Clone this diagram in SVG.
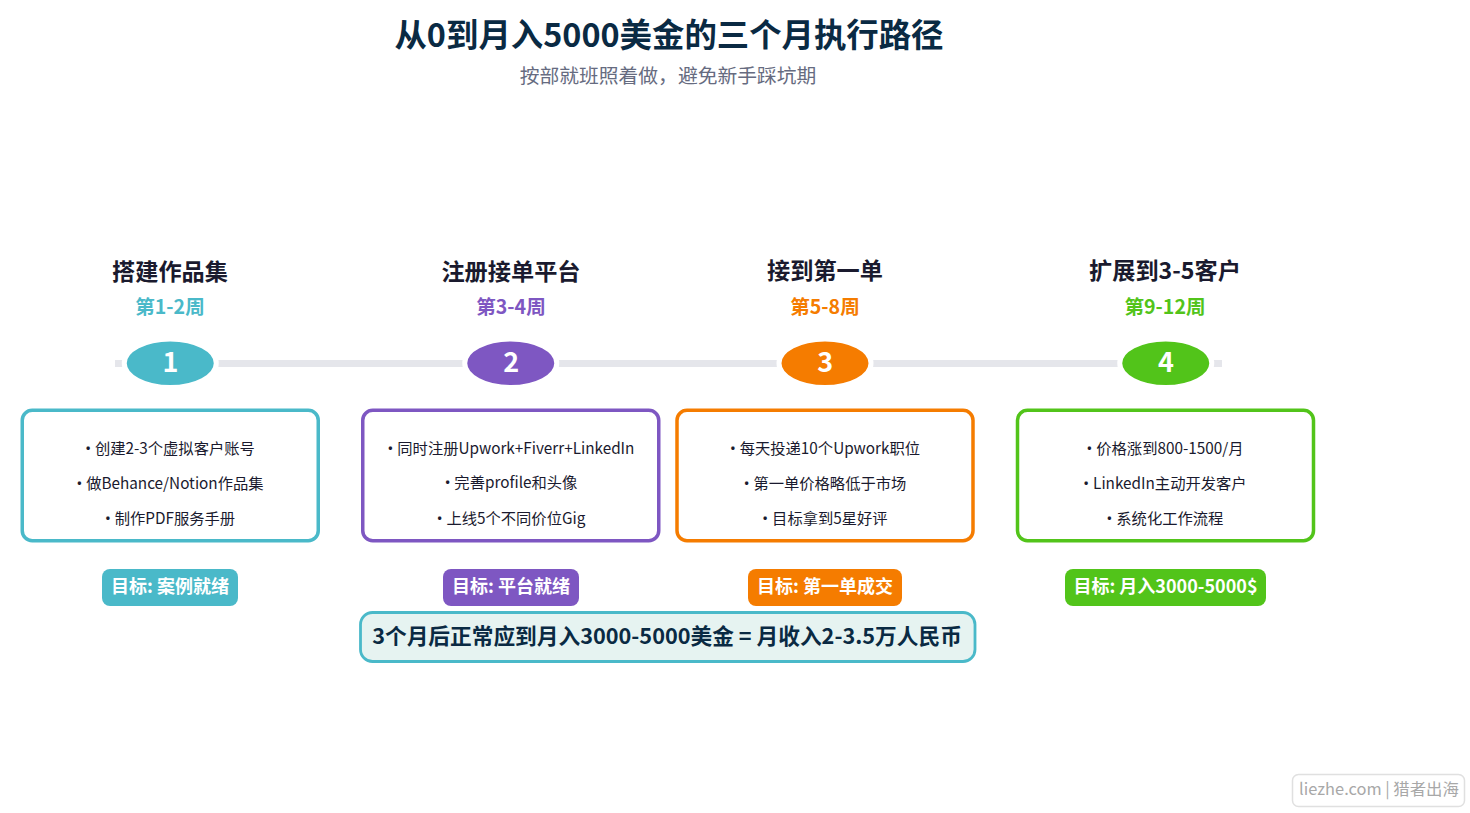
<svg xmlns="http://www.w3.org/2000/svg" width="1470" height="813" viewBox="0 0 1470 813">
<style>
text{font-family:"Noto Sans CJK SC","Noto Sans",sans-serif;text-anchor:middle}
.h{font-size:23.2px;font-weight:700;fill:#1a1a2e}
.w{font-size:19.6px;font-weight:700}
.n{font-size:27px;font-weight:700;fill:#fff}
.b{font-size:15.3px;fill:#1a1a2e}
.d{font-family:"Noto Sans",sans-serif}
.g{font-size:18px;font-weight:700;fill:#fff}
.card{fill:#fff;stroke-width:3.5}
.dot{stroke:#fff;stroke-width:5}
.c1{fill:#4ab9c9}.c2{fill:#7e57c2}.c3{fill:#f57c00}.c4{fill:#52c41a}
.s1{stroke:#4ab9c9}.s2{stroke:#7e57c2}.s3{stroke:#f57c00}.s4{stroke:#52c41a}
</style>
<rect width="1470" height="813" fill="#fff"/>
<g id="title">
<text x="669" y="46.500" style="font-size:32.4px;font-weight:700;fill:#0a2a43">从0到月入5000美金的三个月执行路径</text>
<text x="668" y="83" style="font-size:19.8px;fill:#666b80">按部就班照着做，避免新手踩坑期</text>
</g>
<g id="connectors"><line x1="115" y1="363.500" x2="1222" y2="363.500" stroke="#e5e6eb" stroke-width="7"/></g>
<g id="step1">
<text class="h" x="170" y="280">搭建作品集</text><text class="w c1" x="170" y="314">第1-2周</text>
<ellipse class="dot c1" cx="170.250" cy="363.250" rx="46" ry="24.250"/><text class="n" x="170.500" y="371.500">1</text>
<rect class="card s1" x="22.250" y="410.250" width="296" height="130.500" rx="10"/>
<text class="b" x="170" y="453.500"><tspan class="d">• </tspan>创建2-3个虚拟客户账号</text><text class="b" x="170" y="488.500"><tspan class="d">• </tspan>做Behance/Notion作品集</text><text class="b" x="170" y="523.500"><tspan class="d">• </tspan>制作PDF服务手册</text>
<rect class="c1" x="102" y="569" width="136" height="37" rx="8"/><text class="g" x="170" y="593">目标: 案例就绪</text>
</g>
<g id="step2">
<text class="h" x="511" y="280">注册接单平台</text><text class="w c2" x="511" y="314">第3-4周</text>
<ellipse class="dot c2" cx="510.750" cy="363.250" rx="46" ry="24.250"/><text class="n" x="511.300" y="371.500">2</text>
<rect class="card s2" x="362.750" y="410.250" width="296" height="130.500" rx="10"/>
<text class="b" x="511" y="453.500"><tspan class="d">• </tspan>同时注册Upwork+Fiverr+LinkedIn</text><text class="b" x="511" y="487.500"><tspan class="d">• </tspan>完善profile和头像</text><text class="b" x="511" y="523.500"><tspan class="d">• </tspan>上线5个不同价位Gig</text>
<rect class="c2" x="443" y="569" width="136" height="37" rx="8"/><text class="g" x="511" y="593">目标: 平台就绪</text>
</g>
<g id="step3">
<text class="h" x="825" y="279">接到第一单</text><text class="w c3" x="825" y="314">第5-8周</text>
<ellipse class="dot c3" cx="825" cy="363.250" rx="46" ry="24.250"/><text class="n" x="825.300" y="371.500">3</text>
<rect class="card s3" x="677" y="410.250" width="296" height="130.500" rx="10"/>
<text class="b" x="825" y="453.500"><tspan class="d">• </tspan>每天投递10个Upwork职位</text><text class="b" x="825" y="488.500"><tspan class="d">• </tspan>第一单价格略低于市场</text><text class="b" x="825" y="523.500"><tspan class="d">• </tspan>目标拿到5星好评</text>
<rect class="c3" x="748" y="569" width="154" height="37" rx="8"/><text class="g" x="825" y="593">目标: 第一单成交</text>
</g>
<g id="step4">
<text class="h" x="1165" y="279">扩展到3-5客户</text><text class="w c4" x="1165" y="314">第9-12周</text>
<ellipse class="dot c4" cx="1165.750" cy="363.250" rx="46" ry="24.250"/><text class="n" x="1166" y="371.500">4</text>
<rect class="card s4" x="1017.500" y="410.250" width="296" height="130.500" rx="10"/>
<text class="b" x="1165" y="453.500"><tspan class="d">• </tspan>价格涨到800-1500/月</text><text class="b" x="1165" y="488.500"><tspan class="d">• </tspan>LinkedIn主动开发客户</text><text class="b" x="1165" y="523.500"><tspan class="d">• </tspan>系统化工作流程</text>
<rect class="c4" x="1065" y="569" width="201" height="37" rx="8"/><text class="g" x="1165.500" y="593">目标: 月入3000-5000$</text>
</g>
<g id="summary">
<rect x="360.500" y="612.500" width="614.500" height="49" rx="12" fill="#e6f3f1" stroke="#4ab9c9" stroke-width="2.800"/>
<text x="667" y="644" style="font-size:21.700px;font-weight:700;fill:#0a2a43">3个月后正常应到月入3000-5000美金 = 月收入2-3.5万人民币</text>
</g>
<g id="watermark">
<rect x="1292.500" y="774.500" width="172" height="32" rx="6" fill="#fff" stroke="#e0e0e0" stroke-width="1.500"/>
<text x="1379" y="795" style="font-size:16.400px;fill:#a8a8a8">liezhe.com | 猎者出海</text>
</g>
</svg>
